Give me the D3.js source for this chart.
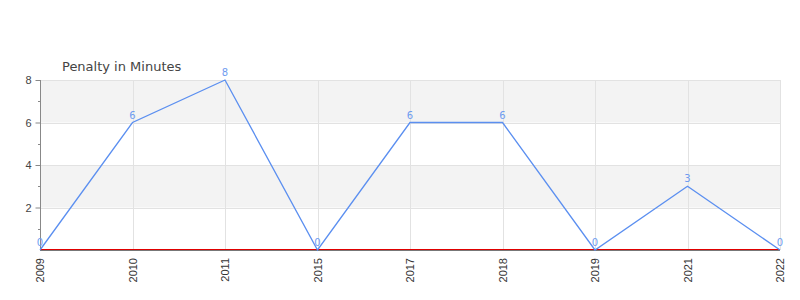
<!DOCTYPE html>
<html>
<head>
<meta charset="utf-8">
<script src="https://cdn.jsdelivr.net/npm/d3@7"></script>
<style>
  body { margin: 0; background: #fff; }
  svg { font-family: "DejaVu Sans", Verdana, sans-serif; }
</style>
</head>
<body>
<div class="svg_container"></div>
<script>
const WIDTH = 800;
const HEIGHT = 300;
const LEFT = 40, RIGHT = 780, TOP = 80, BOTTOM = 250;

var years = ["2009", "2010", "2011", "2015", "2017", "2018", "2019", "2021", "2022"];
var penalty = [0, 6, 8, 0, 6, 6, 0, 3, 0];
var yTicks = [2, 4, 6, 8];
var yMinorTicks = [1, 3, 5, 7];
var bands = [[2, 4], [6, 8]];

var translate = function (x, y) {
  return "translate(" + x + "," + y + ")";
};

var _xScale = d3.scalePoint()
  .domain(years)
  .range([LEFT, RIGHT]);

var _yScale = d3.scaleLinear()
  .domain([0, 8])
  .range([BOTTOM, TOP]);

var svg = d3.select('.svg_container').append('svg')
  .attr('width', WIDTH)
  .attr('height', HEIGHT);

// shaded bands
svg.append('g').selectAll('rect')
  .data(bands).enter().append('rect')
  .attr('x', LEFT)
  .attr('width', RIGHT - LEFT)
  .attr('y', function (d) { return _yScale(d[1]); })
  .attr('height', function (d) { return _yScale(d[0]) - _yScale(d[1]); })
  .attr('fill', '#f3f3f3');

// grid lines
svg.append('g').selectAll('line')
  .data(yTicks).enter().append('line')
  .attr('x1', LEFT).attr('x2', RIGHT)
  .attr('y1', function (d) { return Math.round(_yScale(d)) + 0.5; })
  .attr('y2', function (d) { return Math.round(_yScale(d)) + 0.5; })
  .attr('stroke', '#e2e2e2');

svg.append('g').selectAll('line')
  .data(years.slice(1)).enter().append('line')
  .attr('x1', function (d) { return Math.round(_xScale(d)) + 0.5; })
  .attr('x2', function (d) { return Math.round(_xScale(d)) + 0.5; })
  .attr('y1', TOP).attr('y2', BOTTOM)
  .attr('stroke', '#e2e2e2');

// y axis
var yAxis = d3.axisLeft(_yScale).tickValues(yTicks).tickSize(5).tickPadding(4);
var gy = svg.append('g')
  .attr('transform', translate(LEFT + 0.5, 0))
  .call(yAxis);
gy.select('.domain').attr('stroke', '#888').attr('d', 'M0,' + TOP + 'V' + BOTTOM);
gy.selectAll('.tick line').attr('stroke', '#888');
gy.selectAll('.tick text').attr('fill', '#444').style('font-size', '11px');

svg.append('g').selectAll('line')
  .data(yMinorTicks).enter().append('line')
  .attr('x1', LEFT - 2).attr('x2', LEFT)
  .attr('y1', function (d) { return Math.round(_yScale(d)) + 0.5; })
  .attr('y2', function (d) { return Math.round(_yScale(d)) + 0.5; })
  .attr('stroke', '#888');

// x axis
var xAxis = d3.axisBottom(_xScale).tickSize(0).tickPadding(8);
var gx = svg.append('g')
  .attr('transform', translate(0, BOTTOM))
  .call(xAxis);
gx.select('.domain').attr('stroke', '#777').attr('d', 'M' + LEFT + ',0.5H' + RIGHT);
gx.selectAll('.tick text')
  .attr('fill', '#333')
  .style('font-size', '11px')
  .attr('transform', 'rotate(-90)')
  .attr('text-anchor', 'end')
  .attr('x', -8)
  .attr('y', 0)
  .attr('dy', '0.35em');

// zero line
svg.append('line')
  .attr('x1', LEFT).attr('x2', RIGHT)
  .attr('y1', BOTTOM - 0.5).attr('y2', BOTTOM - 0.5)
  .attr('stroke', '#e00000');

// series line
var line = d3.line()
  .x(function (d, i) { return _xScale(years[i]); })
  .y(function (d) { return _yScale(d); });

svg.append('path')
  .attr('d', line(penalty))
  .attr('fill', 'none')
  .attr('stroke', '#5b8ff0')
  .attr('stroke-width', 1.3);

// value labels
svg.append('g').selectAll('text')
  .data(penalty).enter().append('text')
  .attr('x', function (d, i) { return _xScale(years[i]); })
  .attr('y', function (d) { return _yScale(d) - 4; })
  .attr('text-anchor', 'middle')
  .attr('fill', '#6f9cf0')
  .style('font-size', '10px')
  .text(function (d) { return d; });

// title
svg.append('text')
  .attr('x', 62)
  .attr('y', 71)
  .attr('fill', '#444')
  .style('font-size', '13px')
  .text('Penalty in Minutes');
</script>
</body>
</html>
